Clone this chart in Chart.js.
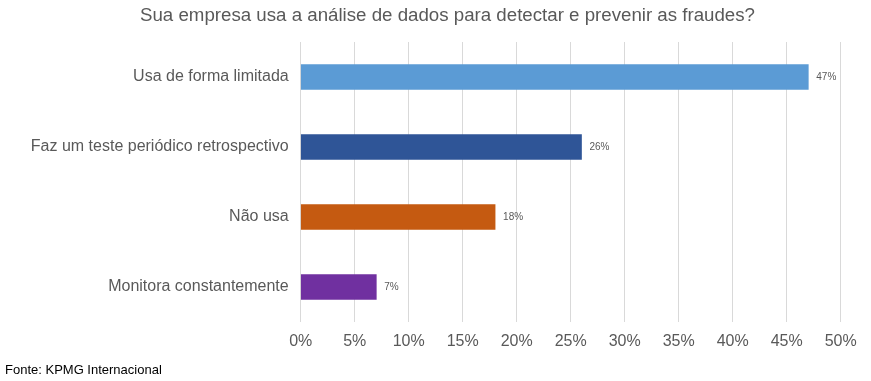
<!DOCTYPE html>
<html>
<head>
<meta charset="utf-8">
<script src="https://cdn.jsdelivr.net/npm/chart.js@4"></script>
<style>
  html, body { margin: 0; padding: 0; background: #ffffff; }
  #wrap { position: relative; width: 871px; height: 381px; overflow: hidden; }
  #chart { position: absolute; left: 0; top: 0; }
  #title { position: absolute; left: 0; width: 895px; top: 4px; text-align: center;
           font-family: "Liberation Sans", Arial, sans-serif; font-size: 18.7px; color: #595959; white-space: nowrap; }
  #source { position: absolute; left: 5px; top: 362px;
           font-family: "Liberation Sans", Arial, sans-serif; font-size: 13px; color: #000000; white-space: nowrap; }
</style>
</head>
<body>
<div id="wrap">
  <canvas id="chart" width="871" height="381"></canvas>
  <div id="title"></div>
  <div id="source"></div>
</div>
<script>
const chartTitle = "Sua empresa usa a análise de dados para detectar e prevenir as fraudes?";
const sourceText = "Fonte: KPMG Internacional";
const categories = ["Usa de forma limitada", "Faz um teste periódico retrospectivo", "Não usa", "Monitora constantemente"];
const values = [47, 26, 18, 7];
const barColors = ["#5B9BD5", "#2F5597", "#C55A11", "#7030A0"];
const tickValues = [0, 5, 10, 15, 20, 25, 30, 35, 40, 45, 50];

document.getElementById("title").textContent = chartTitle;
document.getElementById("source").textContent = sourceText;

const FONT = "'Liberation Sans', Arial, sans-serif";

const valueLabels = {
  id: "valueLabels",
  afterDatasetsDraw(chart) {
    const ctx = chart.ctx;
    ctx.save();
    ctx.font = "10px " + FONT;
    ctx.fillStyle = "#595959";
    ctx.textAlign = "left";
    ctx.textBaseline = "middle";
    chart.getDatasetMeta(0).data.forEach((bar, i) => {
      ctx.fillText(values[i] + "%", bar.x + 8, bar.y);
    });
    ctx.restore();
  }
};

new Chart(document.getElementById("chart"), {
  type: "bar",
  data: {
    labels: categories,
    datasets: [{
      data: values,
      backgroundColor: barColors,
      borderWidth: 0,
      barThickness: 25
    }]
  },
  options: {
    indexAxis: "y",
    responsive: false,
    animation: false,
    layout: { padding: { top: 42, right: 30.3, left: 0, bottom: 0 } },
    plugins: {
      legend: { display: false },
      title: { display: false },
      tooltip: { enabled: false }
    },
    scales: {
      x: {
        min: 0,
        max: 50,
        afterFit(scale) { scale.height = 59; },
        afterBuildTicks(scale) { scale.ticks = tickValues.map(v => ({ value: v })); },
        grid: { color: "#D9D9D9", lineWidth: 1, drawTicks: false },
        border: { display: false },
        ticks: {
          padding: 10,
          color: "#595959",
          font: { family: FONT, size: 16 },
          callback: v => v + "%"
        }
      },
      y: {
        afterFit(scale) { scale.width = 300.7; },
        grid: { display: false, drawTicks: false },
        border: { display: false },
        ticks: {
          padding: 12,
          color: "#595959",
          font: { family: FONT, size: 16 }
        }
      }
    }
  },
  plugins: [valueLabels]
});
</script>
</body>
</html>
